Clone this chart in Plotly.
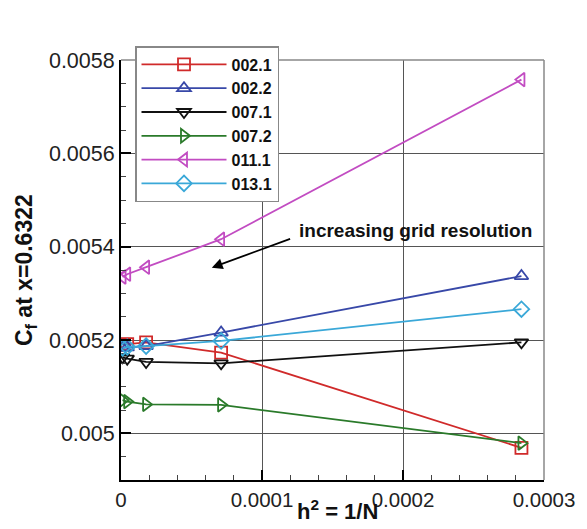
import plotly.graph_objects as go

# h^2 = 1/N grid levels
h2 = [1.1e-6, 4.4e-6, 1.78e-5, 7.1e-5, 2.84e-4]

series_names = ["002.1", "002.2", "007.1", "007.2", "011.1", "013.1"]
cf_0021 = [0.005190, 0.005191, 0.005195, 0.005173, 0.004969]
cf_0022 = [0.005183, 0.005184, 0.005187, 0.005216, 0.005337]
cf_0071 = [0.005163, 0.005160, 0.005153, 0.005150, 0.005195]
cf_0072 = [0.005071, 0.005068, 0.005062, 0.005061, 0.004979]
cf_0111 = [0.005335, 0.005341, 0.005356, 0.005416, 0.005758]
cf_0131 = [0.005183, 0.005185, 0.005187, 0.005198, 0.005266]

x_ticks = [0, 0.0001, 0.0002, 0.0003]
x_ticklabels = ["0", "0.0001", "0.0002", "0.0003"]
y_ticks = [0.005, 0.0052, 0.0054, 0.0056, 0.0058]
y_ticklabels = ["0.005", "0.0052", "0.0054", "0.0056", "0.0058"]

values = [cf_0021, cf_0022, cf_0071, cf_0072, cf_0111, cf_0131]
colors = ["#d02a2a", "#3848a8", "#111111", "#2a7a2a", "#c24cc2", "#3aa8d8"]
symbols = ["square-open", "triangle-up-open", "triangle-down-open",
           "triangle-right-open", "triangle-left-open", "diamond-open"]

fig = go.Figure()
for name, vals, c, s in zip(series_names, values, colors, symbols):
    fig.add_trace(go.Scatter(
        x=h2, y=vals, name=name, mode="lines+markers",
        line=dict(color=c, width=1.8),
        marker=dict(symbol=s, size=12, color=c, line=dict(color=c, width=1.8)),
    ))

font_family = "Liberation Sans, Arial, sans-serif"

L, R, T, B = 121, 43, 60, 49
W, H = 587, 529
pw = W - L - R
ph = H - T - B


def px_x(px):
    return (px - L) / pw


def px_y(py):
    return (H - B - py) / ph


fig.update_layout(
    width=W, height=H,
    margin=dict(l=L, r=R, t=T, b=B),
    paper_bgcolor="white", plot_bgcolor="white",
    font=dict(family=font_family, color="#222"),
    showlegend=True,
    legend=dict(
        x=px_x(135), y=px_y(46), xanchor="left", yanchor="top",
        bgcolor="white", bordercolor="#888", borderwidth=1.5,
        font=dict(size=16, family=font_family, color="#111", weight="bold"),
        tracegroupgap=0, itemwidth=85,
    ),
    xaxis=dict(
        range=[0, 0.0003], tickvals=x_ticks, ticktext=x_ticklabels,
        ticks="inside", ticklen=10, tickwidth=2, tickcolor="black",
        showline=True, linecolor="black", linewidth=2,
        showgrid=True, gridcolor="#555", gridwidth=1,
        zeroline=False, tickfont=dict(size=20.5, color="#222"),
        minor=dict(dtick=0.00002, ticks="inside", ticklen=5, tickwidth=1,
                   tickcolor="#444", showgrid=False),
    ),
    yaxis=dict(
        range=[0.0049, 0.0058], tickvals=y_ticks, ticktext=y_ticklabels,
        ticks="inside", ticklen=10, tickwidth=2, tickcolor="black",
        showline=True, linecolor="black", linewidth=2,
        showgrid=True, gridcolor="#555", gridwidth=1,
        zeroline=False, tickfont=dict(size=21.5, color="#222"),
        minor=dict(dtick=0.00005, ticks="inside", ticklen=5, tickwidth=1,
                   tickcolor="#444", showgrid=False),
    ),
    shapes=[
        dict(type="line", xref="paper", yref="paper", x0=0, x1=1, y0=1, y1=1,
             line=dict(color="#888", width=1.5)),
        dict(type="line", xref="paper", yref="paper", x0=1, x1=1, y0=0, y1=1,
             line=dict(color="#888", width=1.5)),
    ],
    annotations=[
        dict(x=6.44e-5, y=0.005355, ax=1.21e-4, ay=0.005418,
             xref="x", yref="y", axref="x", ayref="y",
             showarrow=True, arrowhead=2, arrowsize=1.2, arrowwidth=1.8,
             arrowcolor="black", text=""),
        dict(x=1.246e-4, y=0.005434, xref="x", yref="y",
             text="<b>increasing grid resolution</b>", showarrow=False,
             xanchor="left", yanchor="middle",
             font=dict(size=19, color="#111", family=font_family)),
        dict(x=px_x(25), y=px_y(270), xref="paper", yref="paper",
             text="<b>C<sub>f</sub> at x=0.6322</b>", showarrow=False,
             textangle=-90, xanchor="center", yanchor="middle",
             font=dict(size=23, color="#111", family=font_family)),
        dict(x=px_x(337), y=px_y(510), xref="paper", yref="paper",
             text="<b>h<sup>2</sup> = 1/N</b>", showarrow=False,
             xanchor="center", yanchor="middle",
             font=dict(size=22, color="#111", family=font_family)),
    ],
)

fig.write_html("out.html")
